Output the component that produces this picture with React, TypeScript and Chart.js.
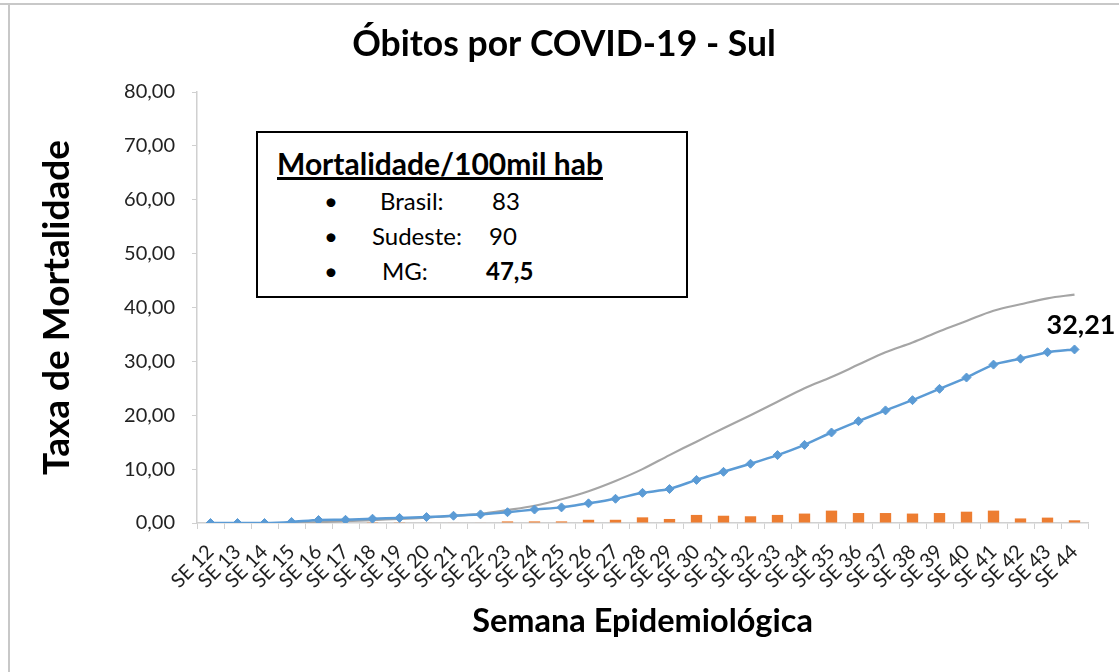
import React, { useEffect, useRef } from "react";
import { Chart, registerables } from "chart.js";

Chart.register(...registerables);

const weeks = [
  "SE 12", "SE 13", "SE 14", "SE 15", "SE 16", "SE 17", "SE 18", "SE 19", "SE 20", "SE 21", "SE 22",
  "SE 23", "SE 24", "SE 25", "SE 26", "SE 27", "SE 28", "SE 29", "SE 30", "SE 31", "SE 32", "SE 33",
  "SE 34", "SE 35", "SE 36", "SE 37", "SE 38", "SE 39", "SE 40", "SE 41", "SE 42", "SE 43", "SE 44",
];

const sulCumulative = [
  0, 0, 0, 0.2, 0.55, 0.6, 0.8, 0.95, 1.1, 1.35, 1.6,
  2.0, 2.5, 2.9, 3.65, 4.5, 5.6, 6.3, 8.0, 9.5, 11.0, 12.6,
  14.5, 16.8, 18.9, 20.9, 22.8, 24.9, 27.0, 29.4, 30.5, 31.7, 32.21,
];

const referenceCumulative = [
  null, null, null, 0, 0.15, 0.35, 0.55, 0.75, 1.0, 1.3, 1.7,
  2.4, 3.2, 4.4, 5.9, 7.8, 10.0, 12.6, 15.1, 17.6, 20.0, 22.5,
  25.0, 27.1, 29.4, 31.7, 33.5, 35.6, 37.5, 39.4, 40.6, 41.7, 42.4,
];

const sulWeekly = [
  0, 0, 0, 0, 0, 0, 0.15, 0.05, 0.1, 0.1, 0.1,
  0.3, 0.3, 0.3, 0.6, 0.6, 1.05, 0.75, 1.5, 1.35, 1.25, 1.5,
  1.75, 2.3, 1.85, 1.85, 1.75, 1.85, 2.1, 2.3, 0.85, 1.0, 0.5,
];

const lastValueLabel = "32,21";
const chartTitle = "Óbitos por COVID-19 - Sul";
const yAxisTitle = "Taxa de Mortalidade";
const xAxisTitle = "Semana Epidemiológica";

const boxTitle = "Mortalidade/100mil hab";
const boxRegions = ["Brasil:", "Sudeste:", "MG:"];
const boxValues = ["83", "90", "47,5"];

const FONT = "Lato, 'Open Sans', sans-serif";

const textPlugin = {
  id: "extraText",
  afterDatasetsDraw(chart: any) {
    const ctx = chart.ctx;
    ctx.save();
    ctx.font = `bold 35.5px ${FONT}`;
    ctx.fillStyle = "#000";
    ctx.textAlign = "center";
    ctx.textBaseline = "alphabetic";
    ctx.fillText(chartTitle, 564, 56);
    const meta = chart.getDatasetMeta(2);
    const pt = meta.data[meta.data.length - 1];
    if (pt) {
      ctx.font = `bold 27px ${FONT}`;
      ctx.fillText(lastValueLabel, pt.x + 6.5, pt.y - 15);
    }
    ctx.restore();
  },
};

export default function App() {
  const canvasRef = useRef<HTMLCanvasElement | null>(null);

  useEffect(() => {
    if (!canvasRef.current) return;
    const chart = new Chart(canvasRef.current, {
      type: "bar",
      data: {
        labels: weeks,
        datasets: [
          {
            type: "bar",
            label: "Semanal",
            data: sulWeekly,
            backgroundColor: "#ED7D31",
            categoryPercentage: 1,
            barPercentage: 0.42,
            order: 3,
          } as any,
          {
            type: "line",
            label: "Referência",
            data: referenceCumulative,
            borderColor: "#A5A5A5",
            borderWidth: 2.2,
            pointRadius: 0,
            tension: 0.35,
            spanGaps: false,
            order: 2,
          } as any,
          {
            type: "line",
            label: "Sul",
            data: sulCumulative,
            borderColor: "#5B9BD5",
            backgroundColor: "#5B9BD5",
            borderWidth: 2.5,
            pointStyle: "rectRot",
            pointRadius: 4.5,
            pointBorderWidth: 1,
            tension: 0.2,
            order: 1,
          } as any,
        ],
      },
      options: {
        responsive: false,
        animation: false,
        layout: { padding: { left: 0, right: 31, top: 92, bottom: 0 } },
        plugins: {
          legend: { display: false },
          tooltip: { enabled: false },
          title: { display: false },
        },
        scales: {
          x: {
            offset: true,
            afterFit: (scale: any) => {
              scale.height = 149;
            },
            grid: {
              display: true,
              drawOnChartArea: false,
              drawTicks: true,
              tickLength: 6,
              color: "#D0D0D0",
              offset: true,
            },
            border: { color: "#D0D0D0", width: 1.5 },
            ticks: {
              autoSkip: false,
              maxRotation: 45,
              minRotation: 45,
              color: "#222",
              padding: 11,
              font: { family: FONT, size: 20 },
            },
            title: {
              display: true,
              text: xAxisTitle,
              color: "#000",
              font: { family: FONT, size: 32.5, weight: "bold" },
              padding: { top: 0, bottom: 30.5 },
            },
          },
          y: {
            min: 0,
            max: 80,
            afterFit: (scale: any) => {
              scale.width = 197;
            },
            grid: {
              display: true,
              drawOnChartArea: false,
              drawTicks: true,
              tickLength: 5,
              color: "#D0D0D0",
            },
            border: { color: "#D0D0D0", width: 1.5 },
            ticks: {
              stepSize: 10,
              color: "#222",
              padding: 17,
              font: { family: FONT, size: 20 },
              callback: (v: any) => Number(v).toFixed(2).replace(".", ","),
            },
            title: {
              display: true,
              text: yAxisTitle,
              color: "#000",
              font: { family: FONT, size: 37, weight: "bold" },
              padding: { top: 35, bottom: 0 },
            },
          },
        },
      },
      plugins: [textPlugin],
    });
    return () => chart.destroy();
  }, []);

  const rowTops = [201, 236, 271];
  const regionLefts = [380, 372, 382];
  const valueLefts = [492, 489, 486];

  return (
    <div
      style={{
        position: "fixed",
        left: 0,
        top: 0,
        width: 1119,
        height: 672,
        background: "#fff",
        overflow: "hidden",
        fontFamily: FONT,
      }}
    >
      <canvas ref={canvasRef} width={1119} height={672} style={{ position: "absolute", left: 0, top: 0 }} />
      <div style={{ position: "absolute", left: 0, top: 3, width: 1119, height: 2, background: "#C8C8C8" }} />
      <div style={{ position: "absolute", left: 8, top: 3, width: 2, height: 669, background: "#C8C8C8" }} />
      <div
        style={{
          position: "absolute",
          left: 256,
          top: 131,
          width: 432,
          height: 167,
          border: "2px solid #000",
          boxSizing: "border-box",
          background: "#fff",
        }}
      />
      <div
        style={{
          position: "absolute",
          left: 277,
          top: 163,
          transform: "translateY(-50%)",
          fontSize: 30,
          fontWeight: "bold",
          textDecoration: "underline",
          color: "#000",
          whiteSpace: "nowrap",
          lineHeight: 1,
        }}
      >
        {boxTitle}
      </div>
      {boxRegions.map((r, i) => (
        <React.Fragment key={r}>
          <div
            style={{
              position: "absolute",
              left: 324,
              top: rowTops[i],
              transform: "translateY(-50%)",
              fontSize: 24,
              color: "#000",
              lineHeight: 1,
            }}
          >
            •
          </div>
          <div
            style={{
              position: "absolute",
              left: regionLefts[i],
              top: rowTops[i],
              transform: "translateY(-50%)",
              fontSize: 24,
              color: "#000",
              lineHeight: 1,
              whiteSpace: "nowrap",
            }}
          >
            {r}
          </div>
          <div
            style={{
              position: "absolute",
              left: valueLefts[i],
              top: rowTops[i],
              transform: "translateY(-50%)",
              fontSize: 24,
              fontWeight: i === 2 ? "bold" : "normal",
              color: "#000",
              lineHeight: 1,
              whiteSpace: "nowrap",
            }}
          >
            {boxValues[i]}
          </div>
        </React.Fragment>
      ))}
    </div>
  );
}
